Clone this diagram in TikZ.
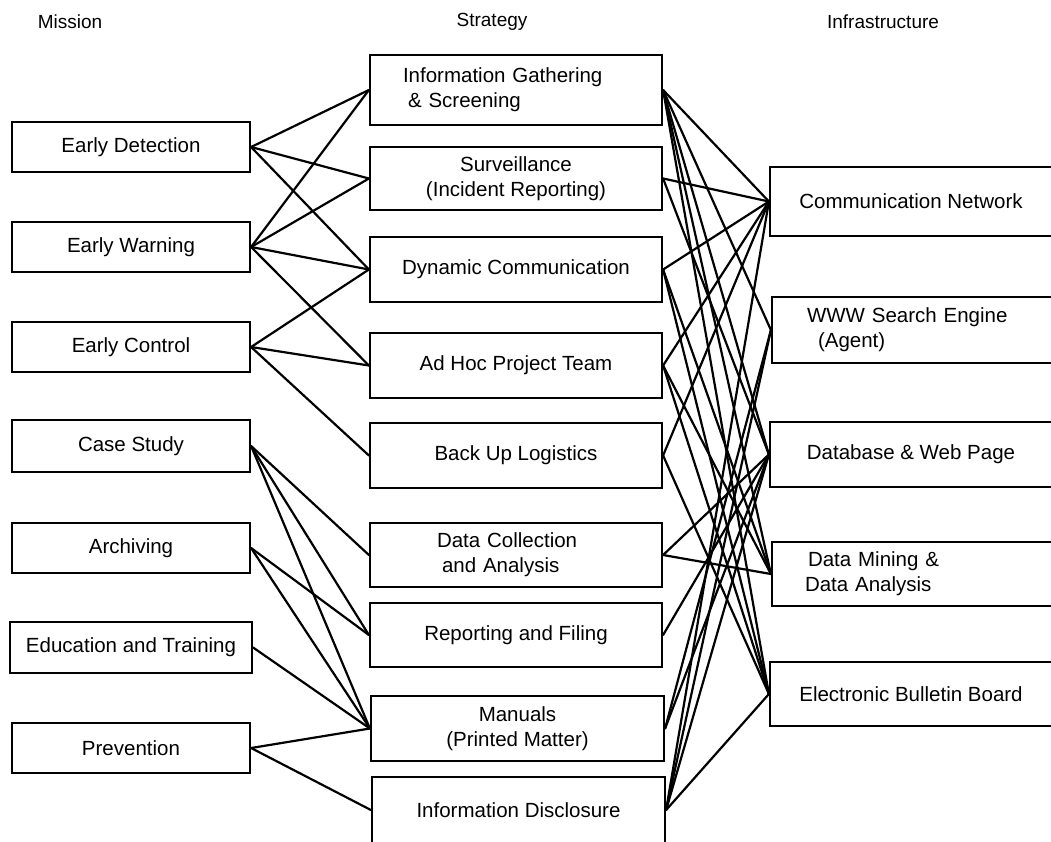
\documentclass[tikz,border=0pt]{standalone}
\usepackage{fontspec}
\setmainfont{Liberation Sans}
\begin{document}
\begin{tikzpicture}[x=1pt,y=-1pt,
  box/.style={draw, line width=2.2pt, inner sep=0pt, font=\fontsize{20.5}{25}\selectfont},
  head/.style={inner sep=0pt, font=\fontsize{19}{23}\selectfont},
  link/.style={line width=2.2pt, line cap=round}]
\useasboundingbox (0,0) rectangle (1051,841);
\clip (0,0) rectangle (1051,841);

% column headings
\node[head] (hm) at (70,22) {Mission};
\node[head] (hs) at (492,22) {Strategy};
\node[head] (hi) at (883,22) {Infrastructure};

% mission
\node[box, minimum width=238pt, minimum height=50pt] (ed) at (131,147) {Early Detection};
\node[box, minimum width=238pt, minimum height=50pt] (ew) at (131,247) {Early Warning};
\node[box, minimum width=238pt, minimum height=50pt] (ec) at (131,347) {Early Control};
\node[box, minimum width=238pt, minimum height=52pt] (cs) at (131,446) {Case Study};
\node[box, minimum width=238pt, minimum height=50pt] (ar) at (131,548) {Archiving};
\node[box, minimum width=242pt, minimum height=51pt] (et) at (131,647.5) {Education and Training};
\node[box, minimum width=238pt, minimum height=50pt] (pr) at (131,748) {Prevention};

% strategy
\node[box, minimum width=292pt, minimum height=70pt, text width=292pt, align=left] (ig) at (516,90)
  {\hspace*{33pt}Information Gathering\\\hspace*{38pt}\& Screening};
\node[box, minimum width=292pt, minimum height=63pt, align=center] (sv) at (516,178.5)
  {Surveillance\\(Incident Reporting)};
\node[box, minimum width=292pt, minimum height=65pt] (dc) at (516,269.5) {Dynamic Communication};
\node[box, minimum width=292pt, minimum height=65pt] (ah) at (516,365.5) {Ad Hoc Project Team};
\node[box, minimum width=292pt, minimum height=65pt] (bl) at (516,455.5) {Back Up Logistics};
\node[box, minimum width=292pt, minimum height=64pt, text width=292pt, align=left] (da) at (516,555)
  {\hspace*{67pt}Data Collection\\\hspace*{72pt}and Analysis};
\node[box, minimum width=292pt, minimum height=64pt] (rf) at (516,635) {Reporting and Filing};
\node[box, minimum width=293pt, minimum height=65pt, align=center] (mn) at (517.5,728.5)
  {Manuals\\(Printed Matter)};
\node[box, minimum width=293pt, minimum height=66pt] (id) at (518.5,810) {Information Disclosure};

% infrastructure
\node[box, minimum width=282pt, minimum height=69pt] (cn) at (911,201.5) {Communication Network};
\node[box, minimum width=280pt, minimum height=66pt, text width=280pt, align=left] (ww) at (912,330)
  {\hspace*{35pt}WWW Search Engine\\\hspace*{46pt}(Agent)};
\node[box, minimum width=282pt, minimum height=65pt] (db) at (911,454.5) {Database \& Web Page};
\node[box, minimum width=280pt, minimum height=64pt, text width=280pt, align=left] (dm) at (912,574)
  {\hspace*{36pt}Data Mining \&\\\hspace*{33pt}Data Analysis};
\node[box, minimum width=282pt, minimum height=64pt] (eb) at (911,694) {Electronic Bulletin Board};

% mission -> strategy
\foreach \a/\b in {ed/ig, ed/sv, ed/dc,
                   ew/ig, ew/sv, ew/dc, ew/ah,
                   ec/dc, ec/ah, ec/bl,
                   cs/da, cs/rf, cs/mn,
                   ar/rf, ar/mn,
                   et/mn,
                   pr/mn, pr/id}
  \draw[link] (\a.east) -- (\b.west);

% strategy -> infrastructure
\foreach \a/\b in {ig/cn, ig/ww, ig/db, ig/dm, ig/eb,
                   sv/cn, sv/db,
                   dc/cn, dc/dm, dc/eb,
                   ah/cn, ah/dm, ah/eb,
                   bl/cn, bl/eb,
                   da/db, da/dm,
                   rf/db,
                   mn/ww, mn/db,
                   id/cn, id/ww, id/db, id/eb}
  \draw[link] (\a.east) -- (\b.west);
\end{tikzpicture}
\end{document}
